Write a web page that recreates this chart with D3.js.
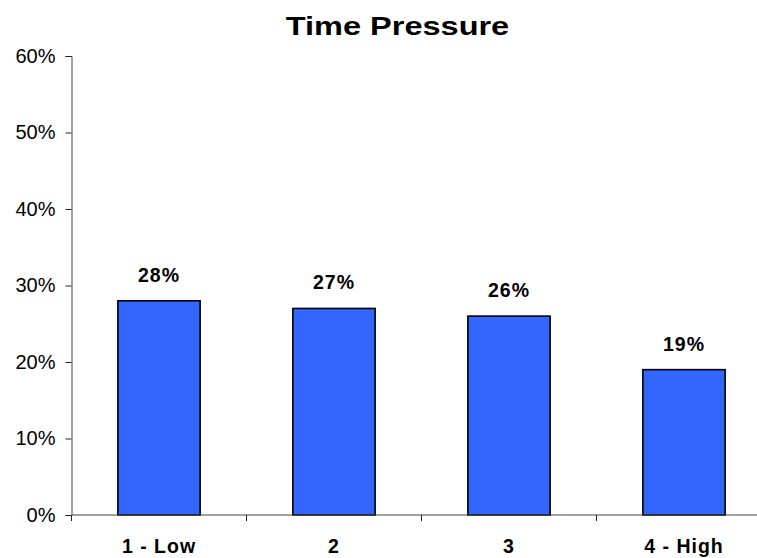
<!DOCTYPE html>
<html>
<head>
<meta charset="utf-8">
<script src="https://cdn.jsdelivr.net/npm/d3@7/dist/d3.min.js"></script>
<style>
  html, body { margin: 0; padding: 0; background: #fff; }
  svg { display: block; font-family: Arial, "Liberation Sans", sans-serif; }
</style>
</head>
<body>
<svg id="chart" width="757" height="558"></svg>
<script>
// Share of respondents by perceived time pressure
const categories = ["1 - Low", "2", "3", "4 - High"];
const shares = [0.28, 0.27, 0.26, 0.19];
const yTicks = [0, 0.1, 0.2, 0.3, 0.4, 0.5, 0.6];
const title = "Time Pressure";

const svg = d3.select("#chart");
const plotLeft = 71.5, plotRight = 771.5, plotTop = 56, plotBottom = 515;

const x = d3.scaleBand()
  .domain(categories)
  .range([plotLeft, plotRight])
  .paddingInner(0.53)
  .paddingOuter(0.265);

const y = d3.scaleLinear()
  .domain([0, 0.6])
  .range([plotBottom, plotTop]);

const pct = d3.format(".0%");

// Title (wide bold face)
svg.append("text")
  .attr("transform", "translate(397.5,35) scale(1.25,1)")
  .attr("text-anchor", "middle")
  .attr("font-size", 26)
  .attr("font-weight", "bold")
  .text(title);

// Bars
svg.append("g")
  .selectAll("rect")
  .data(shares)
  .join("rect")
  .attr("x", (d, i) => x(categories[i]))
  .attr("y", d => y(d))
  .attr("width", x.bandwidth())
  .attr("height", d => y(0) - y(d))
  .attr("fill", "#3366FF")
  .attr("stroke", "#000")
  .attr("stroke-width", 1.6);

// Value labels
svg.append("g")
  .selectAll("text")
  .data(shares)
  .join("text")
  .attr("x", (d, i) => x(categories[i]) + x.bandwidth() / 2)
  .attr("y", d => y(d) - 19)
  .attr("text-anchor", "middle")
  .attr("font-size", 19.5)
  .attr("font-weight", "bold")
  .attr("letter-spacing", 1)
  .text(d => pct(d));

// Y axis
const yAxis = svg.append("g")
  .attr("transform", `translate(${plotLeft},0)`)
  .call(d3.axisLeft(y).tickValues(yTicks).tickFormat(pct).tickSize(6).tickPadding(10));
yAxis.select(".domain").attr("stroke", "#444");
yAxis.selectAll(".tick line").attr("stroke", "#222");
yAxis.selectAll(".tick text")
  .attr("font-size", 20)
  .attr("font-family", "Arial, 'Liberation Sans', sans-serif")
  .attr("fill", "#000");

// X axis: baseline with ticks at category boundaries
const xAxis = svg.append("g");
xAxis.append("line")
  .attr("x1", plotLeft).attr("x2", plotRight)
  .attr("y1", y(0)).attr("y2", y(0))
  .attr("stroke", "#444");
const bounds = d3.range(categories.length + 1).map(i => plotLeft + i * x.step());
xAxis.selectAll("line.tick")
  .data(bounds)
  .join("line")
  .attr("class", "tick")
  .attr("x1", d => d).attr("x2", d => d)
  .attr("y1", y(0)).attr("y2", y(0) + 6)
  .attr("stroke", "#222");
xAxis.selectAll("text")
  .data(categories)
  .join("text")
  .attr("x", d => x(d) + x.bandwidth() / 2)
  .attr("y", y(0) + 38)
  .attr("text-anchor", "middle")
  .attr("font-size", 19.5)
  .attr("font-weight", "bold")
  .attr("letter-spacing", 1)
  .text(d => d);
</script>
</body>
</html>
